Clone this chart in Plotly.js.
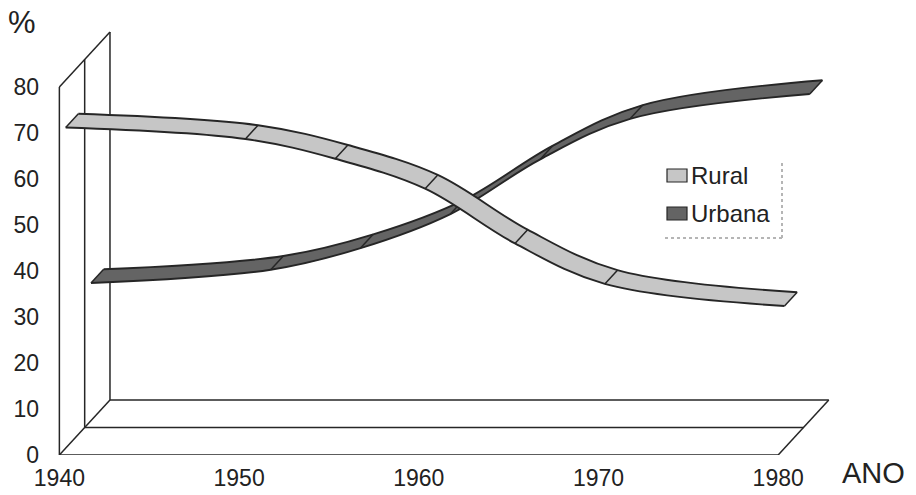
<!DOCTYPE html>
<html>
<head>
<meta charset="utf-8">
<script src="https://cdn.plot.ly/plotly-3.0.1.min.js"></script>
<style>
  html, body { margin: 0; padding: 0; background: #ffffff; }
  #chart { width: 916px; height: 495px; }
</style>
</head>
<body>
<div id="chart"></div>
<script>
// Share of the population (%) living in rural and urban areas
const years  = [1940, 1950, 1955, 1960, 1965, 1970, 1980];
const rural  = [69.7, 67.2, 62.9, 56.4, 44.5, 35.7, 30.9];
const urbana = [29.9, 32.8, 37.5, 44.9, 56.8, 65.6, 71.0];

const xTickVals = [1940, 1950, 1960, 1970, 1980];
const xTickText = ['1940', '1950', '1960', '1970', '1980'];
const yTickVals = [0, 10, 20, 30, 40, 50, 60, 70, 80];
const yTickText = ['0', '10', '20', '30', '40', '50', '60', '70', '80'];

// Oblique "3-D" depth: one depth row shifts a point this much in data units
const DX = 1.408;   // years
const DY = 5.98;    // percentage points
const X0 = 1940, X1 = 1980, YTOP = 80;

const INK = '#262626';
const FONT = 'Liberation Sans, Arial, Helvetica, sans-serif';

// Layout geometry (pixels)
const M = { l: 45, r: 30, t: 18, b: 40 };
const W = 916, H = 495;
const PW = W - M.l - M.r, PH = H - M.t - M.b;
const px = v => (v - M.l) / PW;          // pixel x -> paper x
const py = v => (H - M.b - v) / PH;      // pixel y -> paper y

// Walls and floor of the box
function frameTrace() {
  const xs = [], ys = [];
  const seg = (xa, ya, xb, yb) => { xs.push(xa, xb, null); ys.push(ya, yb, null); };
  for (let k = 0; k <= 2; k++) {
    seg(X0 + k * DX, k * DY, X0 + k * DX, YTOP + k * DY);   // left wall verticals
    seg(X0 + k * DX, k * DY, X1 + k * DX, k * DY);          // floor lines
  }
  seg(X0, YTOP, X0 + 2 * DX, YTOP + 2 * DY);
  seg(X0, 0, X0 + 2 * DX, 2 * DY);
  seg(X1, 0, X1 + 2 * DX, 2 * DY);
  return { x: xs, y: ys, mode: 'lines', type: 'scatter', hoverinfo: 'skip',
           line: { color: INK, width: 1.5 }, showlegend: false, cliponaxis: false };
}

// A smoothed ribbon lying in depth row centred on `c`
function ribbonTraces(vals, c, fill) {
  const d0 = c - 0.25, d1 = c + 0.25;
  const edge = d => ({
    x: years.map(x => x + d * DX),
    y: vals.map(v => v + d * DY)
  });
  const a = edge(d0), b = edge(d1);
  const line = { color: INK, width: 1.9, shape: 'spline', smoothing: 1 };
  const low  = { x: a.x, y: a.y, type: 'scatter', mode: 'lines', line: line,
                 showlegend: false, hoverinfo: 'skip', cliponaxis: false };
  const high = { x: b.x, y: b.y, type: 'scatter', mode: 'lines', line: line,
                 fill: 'tonexty', fillcolor: fill,
                 showlegend: false, hoverinfo: 'skip', cliponaxis: false };
  const dx = [], dy = [];
  years.forEach((x, i) => {
    dx.push(x + d0 * DX, x + d1 * DX, null);
    dy.push(vals[i] + d0 * DY, vals[i] + d1 * DY, null);
  });
  const ticks = { x: dx, y: dy, type: 'scatter', mode: 'lines',
                  line: { color: INK, width: 1.5 },
                  showlegend: false, hoverinfo: 'skip', cliponaxis: false };
  return [low, high, ticks];
}

const RURAL_FILL = '#c6c6c6';
const URB_FILL = '#646464';

const data = [frameTrace()]
  .concat(ribbonTraces(urbana, 1.5, URB_FILL))
  .concat(ribbonTraces(rural, 0.5, RURAL_FILL));

const shapes = [
  // legend swatches
  { type: 'rect', xref: 'paper', yref: 'paper',
    x0: px(667), x1: px(687), y0: py(182), y1: py(169),
    fillcolor: RURAL_FILL, line: { color: INK, width: 1.2 } },
  { type: 'rect', xref: 'paper', yref: 'paper',
    x0: px(667), x1: px(687), y0: py(220), y1: py(207),
    fillcolor: URB_FILL, line: { color: INK, width: 1.2 } },
  // legend box shadow edges
  { type: 'line', xref: 'paper', yref: 'paper',
    x0: px(782), x1: px(782), y0: py(163), y1: py(238),
    line: { color: '#b5b5b5', width: 2, dash: 'dot' } },
  { type: 'line', xref: 'paper', yref: 'paper',
    x0: px(665), x1: px(782), y0: py(238), y1: py(238),
    line: { color: '#b5b5b5', width: 2, dash: 'dot' } }
];

const annotations = [
  { text: 'Rural', xref: 'paper', yref: 'paper', x: px(689), y: py(176),
    xanchor: 'left', yanchor: 'middle', showarrow: false,
    font: { family: FONT, size: 24, color: '#222' } },
  { text: 'Urbana', xref: 'paper', yref: 'paper', x: px(689), y: py(213),
    xanchor: 'left', yanchor: 'middle', showarrow: false,
    font: { family: FONT, size: 24, color: '#222' } },
  { text: '%', xref: 'paper', yref: 'paper', x: px(22), y: py(23),
    xanchor: 'center', yanchor: 'middle', showarrow: false,
    font: { family: FONT, size: 31, color: '#222' } },
  { text: 'ANO', xref: 'paper', yref: 'paper', x: px(873), y: py(473),
    xanchor: 'center', yanchor: 'middle', showarrow: false,
    font: { family: FONT, size: 29, color: '#222' } }
];

const layout = {
  width: W, height: H,
  margin: M,
  paper_bgcolor: '#ffffff', plot_bgcolor: '#ffffff',
  showlegend: false,
  font: { family: FONT, color: '#222' },
  xaxis: {
    range: [1939.2, 1986], tickvals: xTickVals, ticktext: xTickText,
    showgrid: false, zeroline: false, showline: false, ticks: '',
    ticklabelstandoff: 7,
    tickfont: { family: FONT, size: 23, color: '#222' }, fixedrange: true
  },
  yaxis: {
    range: [0, 95], tickvals: yTickVals, ticktext: yTickText,
    showgrid: false, zeroline: false, showline: false, ticks: '',
    ticklabelstandoff: 5,
    tickfont: { family: FONT, size: 23, color: '#222' }, fixedrange: true
  },
  shapes: shapes,
  annotations: annotations
};

Plotly.newPlot('chart', data, layout, { staticPlot: true, displayModeBar: false });
</script>
</body>
</html>
